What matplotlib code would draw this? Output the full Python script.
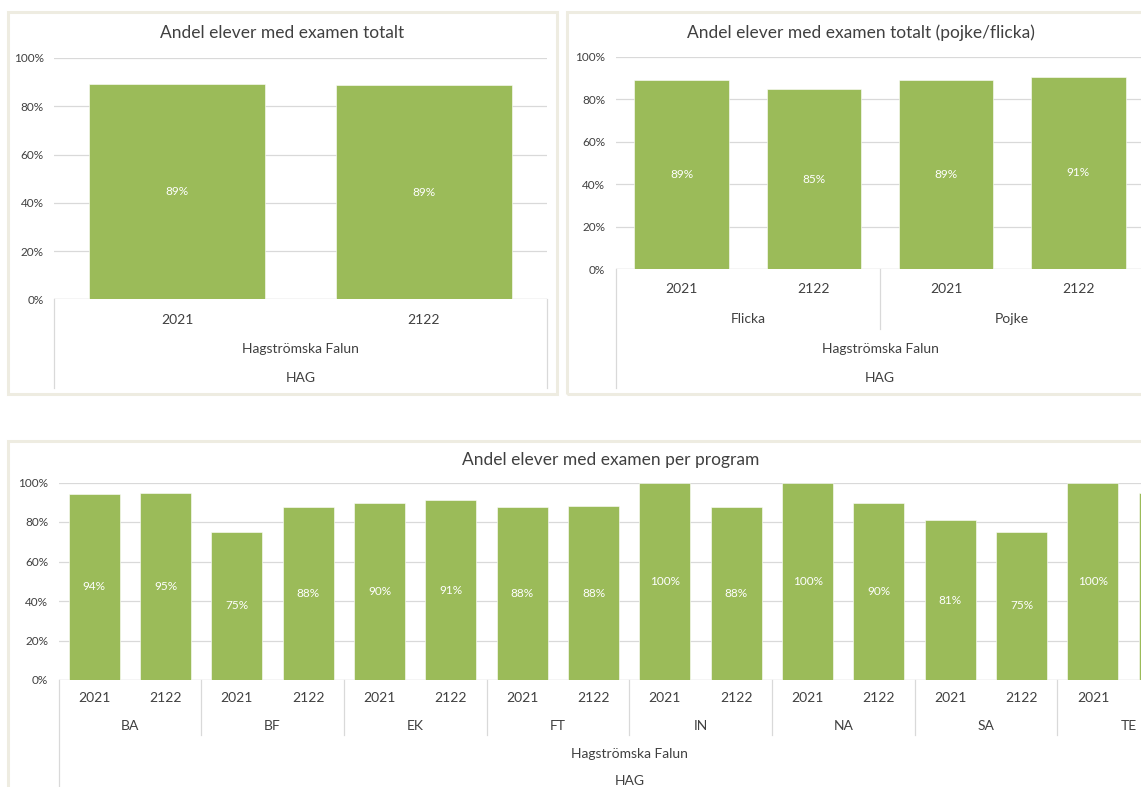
import matplotlib
matplotlib.use("Agg")
import matplotlib.pyplot as plt
from matplotlib.patches import Rectangle
from matplotlib.ticker import FuncFormatter

# ---------------- data ----------------
school = "Hagströmska Falun"
unit = "HAG"
years = ["2021", "2122"]

total_values = [0.892, 0.889]

genders = ["Flicka", "Pojke"]
gender_values = [0.892, 0.848, 0.892, 0.906]

programs = ["BA", "BF", "EK", "FT", "IN", "NA", "SA", "TE"]
program_values = [0.944, 0.947, 0.75, 0.875, 0.898, 0.91, 0.875, 0.879,
                  1.0, 0.875, 1.0, 0.898, 0.808, 0.75, 1.0, 0.948]

titles = ["Andel elever med examen totalt",
          "Andel elever med examen totalt (pojke/flicka)",
          "Andel elever med examen per program"]

# ---------------- style ----------------
W, H = 1141, 787
GREEN = "#9BBB59"
GRID = "#D9D9D9"
FRAME = "#EEECE1"
TXT = "#404040"
plt.rcParams["font.family"] = ["Lato", "DejaVu Sans"]

fig = plt.figure(figsize=(W / 100, H / 100), dpi=100)
fig.patch.set_facecolor("white")


def rect(left, top, right, bottom):
    return [left / W, 1 - bottom / H, (right - left) / W, (bottom - top) / H]


def frame(left, top, right, bottom):
    fig.patches.append(Rectangle((left / W, 1 - bottom / H), (right - left) / W,
                                 (bottom - top) / H, transform=fig.transFigure,
                                 facecolor="none", edgecolor=FRAME, lw=2.2, zorder=0))


frame(8, 12, 557, 394)
frame(567, 12, 1160, 394)
frame(8, 441, 1200, 820)

pct = FuncFormatter(lambda v, p: f"{v * 100:.0f}%")


def make_axes(left, top, right, bottom, values):
    ax = fig.add_axes(rect(left, top, right, bottom))
    n = len(values)
    x = list(range(n))

    def visible(xd):
        px = left + (xd + 0.5) * (right - left) / n
        return px < W - 8

    ax.bar(x, values, width=0.715, color=GREEN, edgecolor="white", lw=0.4, zorder=2)
    for xi, v in zip(x, values):
        if visible(xi):
            ax.text(xi, v / 2, f"{v * 100:.0f}%", color="white", ha="center",
                    va="center", fontsize=8.5, zorder=3)
    ax.set_xlim(-0.5, n - 0.5)
    ax.set_ylim(0, 1)
    ax.set_yticks([0, 0.2, 0.4, 0.6, 0.8, 1.0])
    ax.yaxis.set_major_formatter(pct)
    ax.tick_params(axis="y", length=0, pad=7.5, labelsize=8.5, labelcolor=TXT)
    ax.set_xticks([])
    ax.grid(axis="y", color=GRID, lw=0.9)
    ax.set_axisbelow(True)
    for s in ax.spines.values():
        s.set_visible(False)
    ax.axhline(0, color=GRID, lw=0.9, zorder=1)
    ax.patch.set_alpha(0)

    def fy(py):
        return (bottom - py) / (bottom - top)

    def label(xd, py, s, size=10):
        if visible(xd):
            ax.text(xd, fy(py), s, transform=ax.get_xaxis_transform(), ha="center",
                    va="center", fontsize=size, color=TXT, clip_on=False)

    def vline(xd, py_end):
        ax.plot([xd, xd], [0, fy(py_end)], transform=ax.get_xaxis_transform(),
                color=GRID, lw=0.9, clip_on=False)

    return ax, label, vline


# ---- panel 1 ----
ax1, lab1, vl1 = make_axes(54, 58, 547, 299.5, total_values)
for i, y in enumerate(years):
    lab1(i, 320, y)
lab1(0.5, 349, school)
lab1(0.5, 378, unit)
vl1(-0.5, 388)
vl1(1.5, 388)
fig.text(282.5 / W, 1 - 33 / H, titles[0], ha="center", va="center", fontsize=12.5, color=TXT)

# ---- panel 2 ----
ax2, lab2, vl2 = make_axes(615.6, 56.7, 1144.4, 269.3, gender_values)
for gi, g in enumerate(genders):
    for yi, y in enumerate(years):
        lab2(gi * 2 + yi, 289, y)
    lab2(gi * 2 + 0.5, 319, g)
lab2(1.5, 349, school)
lab2(1.5, 378, unit)
vl2(-0.5, 388)
vl2(1.5, 329)
vl2(3.5, 388)
fig.text(861 / W, 1 - 32.5 / H, titles[1], ha="center", va="center", fontsize=12.5, color=TXT)

# ---- panel 3 ----
ax3, lab3, vl3 = make_axes(58.5, 482.5, 1200, 680, program_values)
for pi, p in enumerate(programs):
    for yi, y in enumerate(years):
        lab3(pi * 2 + yi, 698, y)
    lab3(pi * 2 + 0.5, 726, p)
    if pi > 0:
        vl3(pi * 2 - 0.5, 735)
lab3(7.5, 754, school)
lab3(7.5, 781, unit)
vl3(-0.5, 800)
vl3(15.5, 800)
fig.text(611 / W, 1 - 460 / H, titles[2], ha="center", va="center", fontsize=12.5, color=TXT)

fig.savefig("out.png", dpi=100)
